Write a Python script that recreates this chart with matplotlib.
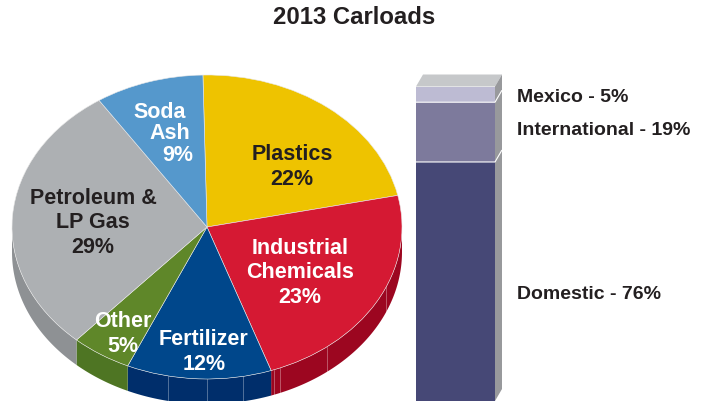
import numpy as np
import matplotlib
matplotlib.use("Agg")
import matplotlib.pyplot as plt

plt.rcParams['font.family'] = ['Liberation Sans', 'DejaVu Sans']
plt.rcParams['font.weight'] = 'bold'

W, H = 706, 402

categorias = ["Plastics", "Industrial Chemicals", "Fertilizer", "Other", "Petroleum & LP Gas", "Soda Ash"]
percent = [22, 23, 12, 5, 29, 9]
cores = ["#EEC300", "#D51933", "#00478B", "#5F8729", "#ADB0B3", "#5598CC"]
cores_lado = ["#C9A500", "#9C0620", "#002E6B", "#4E7523", "#8E9194", "#3F7BA8"]

# rim seams, degrees clockwise from the top of the pie
costuras = [113, 142, 158, 160, 169.4, 180, 191.5]

destinos = ["Domestic", "International", "Mexico"]
destinos_pct = [76, 19, 5]
cores_barra = ["#464876", "#7D7A9C", "#BDBBD3"]
cor_topo = "#C6C8CA"
cor_lado = "#98999C"

fig = plt.figure(figsize=(W / 100, H / 100), dpi=100)


def eixo_px(x0, y0, x1, y1):
    # axes placed by pixel box, y0 is the top edge
    return fig.add_axes([x0 / W, 1 - y1 / H, (x1 - x0) / W, (y1 - y0) / H])


# pie, squashed by letting the aspect go free
ax = eixo_px(12, 76, 402, 380)
inicio = -1.2
profund = 25 / 152.0

a = inicio
for p, c in zip(percent, cores_lado):
    b = a + p * 3.6
    # only the part of the rim facing the viewer
    lo, hi = max(a, 90), min(b, 270)
    if hi > lo:
        t = np.radians(np.linspace(lo, hi, 80))
        xs = np.sin(t)
        ys = np.cos(t)
        ax.fill(np.r_[xs, xs[::-1]], np.r_[ys, ys[::-1] - profund], color=c, lw=0, clip_on=False, zorder=1)
    a = b

for g in costuras:
    t = np.radians(g)
    ax.plot([np.sin(t)] * 2, [np.cos(t), np.cos(t) - profund], color="white", lw=0.5, alpha=0.45,
            clip_on=False, zorder=2)

wedges, _ = ax.pie(percent, colors=cores, startangle=90 - inicio, counterclock=False, radius=1,
                   wedgeprops=dict(edgecolor="#E8E8E8", linewidth=0.4, zorder=3))
for w in wedges:
    w.set_clip_on(False)
ax.set_aspect('auto')
ax.set_xlim(-1, 1)
ax.set_ylim(-1, 1)
ax.axis('off')

# stacked column with its fake depth
bx = eixo_px(416, 87.5, 495, 402)
bx.set_xlim(0, 1)
bx.set_ylim(0, 100)
bx.axis('off')
base = 0
for v, c in zip(destinos_pct, cores_barra):
    bx.bar(0.5, v, width=1, bottom=base, color=c, lw=0, zorder=2)
    base += v

dx = 7 / 79.0
dy = 12 * 100 / 314.5
bx.fill([0, 1, 1 + dx, dx], [100, 100, 100 + dy, 100 + dy], color=cor_topo, lw=0, clip_on=False)
bx.fill([1, 1 + dx, 1 + dx, 1], [0, dy, 100 + dy, 100], color=cor_lado, lw=0, clip_on=False)
for s in np.cumsum(destinos_pct)[:-1]:
    bx.plot([0, 1, 1 + dx], [s, s, s + dy], color="white", lw=0.8, clip_on=False, zorder=3,
            solid_capstyle='butt')

# all the text goes on a pixel overlay
tx = fig.add_axes([0, 0, 1, 1])
tx.set_xlim(0, W)
tx.set_ylim(H, 0)
tx.axis('off')
tx.patch.set_alpha(0)

tx.text(354, 18, "2013 Carloads", fontsize=17.2, ha='center', va='center', color="#231F20")

rotulos = [
    (292, 167, "Plastics\n22%", "#231F20"),
    (300, 273, "Industrial\nChemicals\n23%", "white"),
    (204, 352, "Fertilizer\n12%", "white"),
    (123, 334, "Other\n5%", "white"),
    (93, 223, "Petroleum &\nLP Gas\n29%", "#231F20"),
]
for x, y, s, c in rotulos:
    tx.text(x, y, s, fontsize=15.5, ha='center', va='center', color=c, linespacing=1.2)

# Soda Ash steps to the right line by line
for x, y, s in [(160, 112, "Soda"), (170, 134, "Ash"), (178, 156, "9%")]:
    tx.text(x, y, s, fontsize=15.5, ha='center', va='center', color="white")

for y, nome, v in [(97.5, destinos[2], destinos_pct[2]), (131, destinos[1], destinos_pct[1]),
                   (295, destinos[0], destinos_pct[0])]:
    tx.text(517, y, "%s - %d%%" % (nome, v), fontsize=14, ha='left', va='center', color="#231F20")

plt.savefig("out.png", dpi=100)
